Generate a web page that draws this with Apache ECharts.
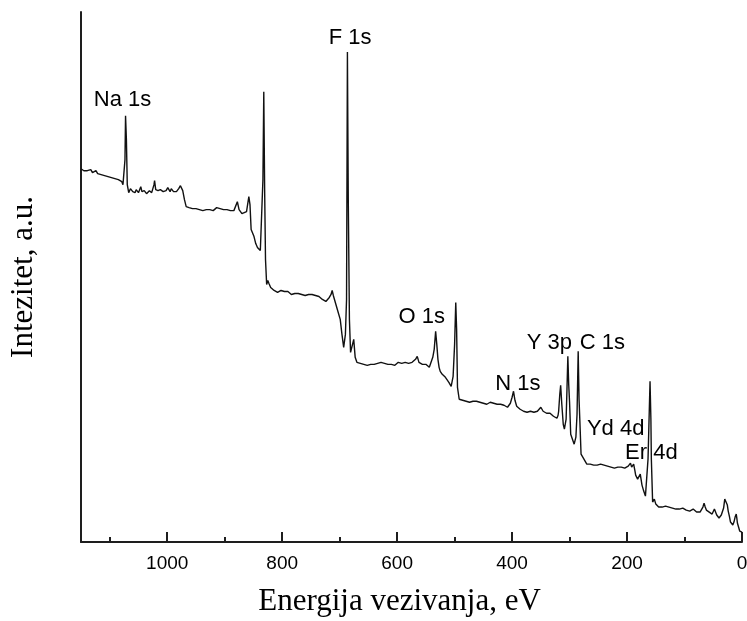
<!DOCTYPE html>
<html>
<head>
<meta charset="utf-8">
<script src="https://cdn.jsdelivr.net/npm/echarts@6/dist/echarts.min.js"></script>
<style>
  html, body { margin: 0; padding: 0; background: #fff; }
  #chart { width: 747px; height: 621px; }
</style>
</head>
<body>
<div id="chart"></div>
<script>
// XPS survey spectrum: [binding energy (eV), intensity (a.u.)]
const spectrumPoints = [
  [1150,374],[1148,374],[1145,372],[1142,374],[1139,372],[1136,371],[1133,373],[1130,370],[1127,371],
  [1124,372],[1121,369],[1118,370],[1115,368],[1112,369],[1109,367],[1106,368],[1103,366],[1100,367],
  [1097,365],[1094,366],[1091,364],[1088,366],[1085,363],[1082,363],[1079,361],[1077,358],[1075,357],
  [1073.5,383],[1072.5,427],[1071,403],[1069.5,358],
  [1067,350],[1064,354],[1062,355],[1060,351],[1058,352],[1056,350],[1054,353],[1052,351],[1050,350],
  [1048,352],[1046,356],[1044,351],[1042,350],[1040,352],[1038,351],[1036,349],[1034,350],[1031,352],
  [1029,351],[1027,350],[1025,352],[1023,358],[1022,362],[1020,353],[1018,351],[1016,352],[1014,350],
  [1012,353],[1009,354],[1007,351],[1004,353],[1002,352],[999,355],[997,353],[995,351],[993,354],
  [991,353],[989,351],[986,349],[984,351],[982,352],[980,354],[977,357],[975,355],[973,352],[970,343],
  [967,336],[965,334],[962,335],[959,333],[956,334],[953,336],[950,334],[947,335],[944,333],[941,334],
  [938,332],[935,334],[932,333],[929,335],[926,333],[923,334],[920,332],[917,334],[914,335],[911,333],
  [908,334],[905,332],[902,333],[899,335],[896,333],[893,334],[890,332],[887,333],[884,332],[881,334],
  [878,341],[875,333],[870,329],[867,327],[862,331],[858,346],[856,338],[854,313],[851,315],[849,306],
  [846,299],[843,295],[838,292],[835,293],[833.5,363],[832,451],[830.5,353],[829,283],
  [827,258],[825,262],[823,259],[820,255],[817,256],[814,252],[811,253],[808,250],[805,251],[802,252],
  [799,250],[796,251],[793,249],[790,251],[787,250],[784,248],[781,250],[778,249],[775,251],[772,249],
  [769,250],[766,248],[763,249],[760,247],[757,249],[754,248],[751,246],[748,248],[745,246],[742,247],
  [739,245],[736,246],[733,244],[730,243],[727,242],[724,241],[721,243],[718,245],[715,248],[713,252],
  [711,247],[709,243],[704,233],[699,223],[696,208],[693,195],[690,208],[688,243],[686.5,491],[685,343],
  [683,223],[681,190],[678,191],[675.5,203],[673,185],
  [670,180],[667,181],[664,179],[661,180],[658,178],[655,179],[652,177],[649,179],[646,178],[643,180],
  [640,178],[637,177],[634,179],[631,178],[628,180],[625,178],[622,179],[619,177],[616,178],[613,180],
  [610,178],[607,179],[604,177],[601,179],[598,180],[595,178],[592,179],[589,178],[586,180],[583,181],
  [580,179],[577,181],[574,180],[571,182],[568,183],[565,186],[562,180],[559,179],[556,178],[553,177],
  [550,178],[547,176],[544,175],[541,174],[538,185],[535.5,193],[533,211],[531,198],[529,183],[527,175],
  [525,171],[521.5,168],[516,165],[510,160],[506,156],[502.6,166],[500,198],[498,240],[496.5,213],[495,155],
  [492,143],[489,141],[486,142],[483,143],[480,141],[477,142],[474,140],[471,142],[468,141],[465,140],
  [462,141],[459,139],[456,140],[453,141],[450,139],[447,140],[444,138],[441,139],[438,140],[435,138],
  [432,139],[429,137],[426,138],[423,137],[420,138],[417,136],[414,137],[411,136],[408,135],[405,137],
  [403,139],[400,145],[397.5,151],[395,142],
  [392,136],[389,134],[386,133],[383,132],[380,131],[377,131],[374,130],[371,130],[368,131],[365,129],
  [362,130],[359,130],[356,131],[353,133],[350,135],[348,133],[346,131],[343,130],[340,129],[337,128],
  [334,129],[331,127],[328,126],[325,125],[322,124],[320,127],[319,131],[317,148],[315.5,157],[313.5,138],
  [311,118],[309,113],[306,123],[304.5,153],[303,186],[301.5,158],[300,140],[298,108],[295,103],[292,98],
  [289,105],[287,128],[285,191],[283.5,143],[282,120],[280,88],[277,85],[275.5,87],[273,81],
  [270,78],[267,77],[264,78],[261,76],[258,77],[255,75],[252,77],[249,76],[246,78],[243,76],
  [240,77],[237,75],[234,76],[231,77],[228,75],[225,76],[222,74],[219,76],[216,75],[213,77],
  [210,75],[207,76],[204,74],[201,75],[198,76],[196,78],[194,79],[192,75],[190,76],[188.5,78],
  [186.5,72],[185,67],[181.6,63],[177,68],[174,57],[171,51],[168,46],[165,45],[163.5,83],[162,116],
  [160,161],[158.5,123],[157.7,83],[155.5,40],[152.5,43],[150,38],
  [148,36],[145,35],[142,37],[139,35],[136,34],[133,36],[130,34],[127,35],[124,33],[121,34],
  [118,35],[115,33],[112,34],[109,33],[106,32],[103,34],[100,33],[97,32],[94,33],[91,31],
  [88,32],[85,33],[82,31],[79,30],[76,31],[73,30],[70,32],[68,35],[66,39],[64,35],
  [62,32],[60,31],[57,30],[54,29],[52,28],[50,30],[48,33],[46,30],[44,27],[42,25],
  [40,24],[38,26],[36,27],[34,29],[32,34],[30,43],[28.5,45],[27,42],[25.5,37],[24,31],
  [22,26],[20,20],[18,18],[16,17],[14,20],[12,25],[10,28],[9,24],[8,19],[6,15],
  [4,11],[2,10],[0,10]
];

// Peak annotations: label text and anchor position [eV, a.u.]
const peakNames = ['Na 1s', 'F 1s', 'O 1s', 'N 1s', 'Y 3p', 'C 1s', 'Yd 4d', 'Er 4d'];
const peakLabelX = [1077.7, 681.7, 557.2, 390, 335, 243, 219.8, 157.7];
const peakLabelY = [443, 505, 225, 158, 199, 199, 113, 89];

const xTickValues = [0, 200, 400, 600, 800, 1000];

const peakLabels = peakNames.map((n, i) => ({ name: n, value: [peakLabelX[i], peakLabelY[i]] }));

const chart = echarts.init(document.getElementById('chart'), null, { renderer: 'canvas' });

const axisColor = '#1e1e1e';
const serif = '"Liberation Serif", "Times New Roman", serif';
const sans = '"Liberation Sans", Arial, sans-serif';

chart.setOption({
  animation: false,
  backgroundColor: '#fff',
  grid: { left: 81, right: 5, top: 12, bottom: 79, containLabel: false, outerBoundsMode: 'none' },
  xAxis: [
    {
      type: 'value',
      inverse: true,
      min: 0,
      max: 1150,
      interval: 200,
      name: 'Energija vezivanja, eV',
      nameLocation: 'middle',
      nameGap: 44,
      nameTextStyle: { fontFamily: serif, fontSize: 31, color: '#000', padding: [0, 24, 0, 0] },
      axisLine: { show: true, onZero: false, lineStyle: { color: axisColor, width: 2 } },
      axisTick: { show: true, inside: true, length: 10, lineStyle: { color: axisColor, width: 2 } },
      axisLabel: {
        show: true, margin: 12, fontFamily: sans, fontSize: 19, color: '#000',
        showMaxLabel: false,
        formatter: v => (xTickValues.indexOf(v) >= 0 ? String(v) : '')
      },
      splitLine: { show: false }
    },
    {
      // secondary scale carrying the short 100 eV ticks
      type: 'value',
      inverse: true,
      position: 'bottom',
      min: 0,
      max: 1150,
      interval: 100,
      axisLine: { show: false },
      axisTick: { show: true, inside: true, length: 5, lineStyle: { color: axisColor, width: 2 } },
      axisLabel: { show: false },
      splitLine: { show: false }
    }
  ],
  yAxis: {
    type: 'value',
    min: 0,
    max: 531,
    name: 'Intezitet, a.u.',
    nameLocation: 'middle',
    nameGap: 42,
    nameRotate: 90,
    nameTextStyle: { fontFamily: serif, fontSize: 31, color: '#000' },
    axisLine: { show: true, onZero: false, lineStyle: { color: axisColor, width: 2 } },
    axisTick: { show: false },
    axisLabel: { show: false },
    splitLine: { show: false }
  },
  series: [
    {
      type: 'line',
      xAxisIndex: 0,
      data: spectrumPoints,
      showSymbol: false,
      symbol: 'none',
      lineStyle: { color: '#111', width: 1.4 },
      silent: true
    },
    {
      type: 'scatter',
      xAxisIndex: 0,
      data: peakLabels,
      symbolSize: 1,
      itemStyle: { color: 'rgba(0,0,0,0)' },
      silent: true,
      label: {
        show: true,
        position: 'inside',
        formatter: '{b}',
        fontFamily: sans,
        fontSize: 22,
        color: '#000',
        opacity: 1
      }
    }
  ]
});
</script>
</body>
</html>
